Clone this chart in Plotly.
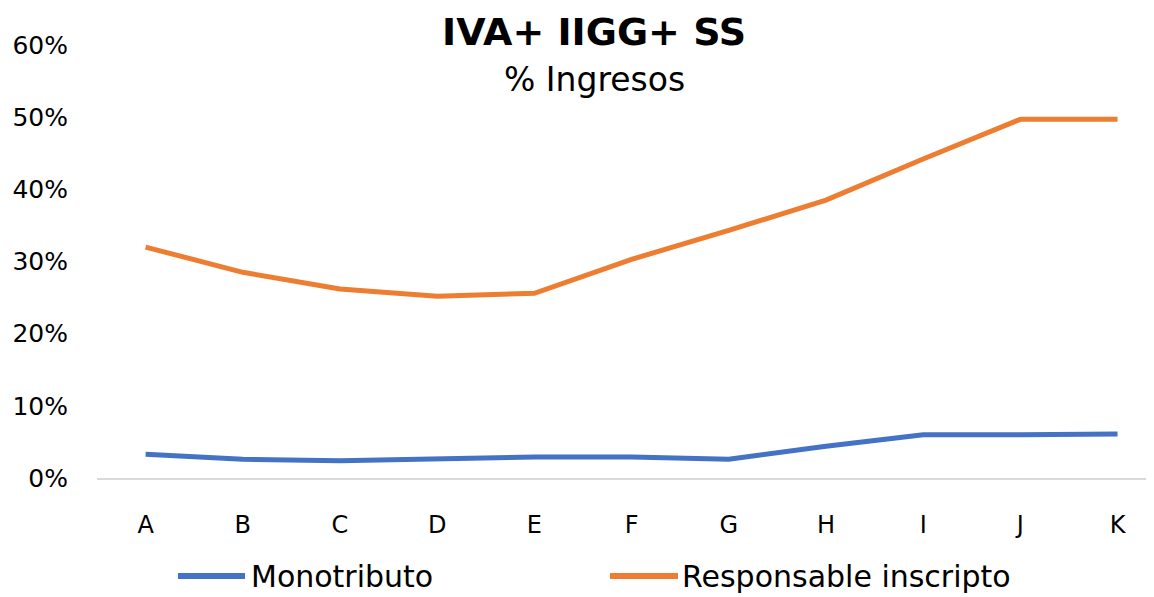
import plotly.graph_objects as go

categories = ["A", "B", "C", "D", "E", "F", "G", "H", "I", "J", "K"]
monotributo = [0.033, 0.026, 0.024, 0.026, 0.029, 0.029, 0.026, 0.044, 0.060, 0.060, 0.061]
responsable = [0.320, 0.285, 0.262, 0.252, 0.256, 0.303, 0.343, 0.385, 0.442, 0.497, 0.497]
y_ticks = [0, 0.1, 0.2, 0.3, 0.4, 0.5, 0.6]
y_tick_labels = ["0%", "10%", "20%", "30%", "40%", "50%", "60%"]

BLUE = "#4472C4"
ORANGE = "#ED7D31"
FONT = "DejaVu Sans"

# page has an 8px body margin; figure is sized to fit the window
OFF = 8
W, H = 1154 - OFF, 597 - OFF
PL, PR, PT, PB = 97, 1154, 45, 478  # plot area in window pixels

fig = go.Figure()
fig.add_trace(go.Scatter(x=list(range(len(categories))), y=monotributo, mode="lines",
                         name="Monotributo", line=dict(color=BLUE, width=5), showlegend=False))
fig.add_trace(go.Scatter(x=list(range(len(categories))), y=responsable, mode="lines",
                         name="Responsable inscripto", line=dict(color=ORANGE, width=5), showlegend=False))

fig.update_layout(
    width=W, height=H,
    margin=dict(l=PL - OFF, r=0, t=PT - OFF, b=H - (PB - OFF), pad=0),
    paper_bgcolor="white", plot_bgcolor="white",
    font=dict(family=FONT, color="#000000"),
    xaxis=dict(
        tickmode="array", tickvals=list(range(len(categories))), ticktext=categories,
        range=[-0.5, 10.375], showgrid=False, zeroline=False,
        showline=True, linecolor="#d9d9d9", linewidth=1.5,
        tickfont=dict(size=24), ticks="", ticklabelstandoff=24,
    ),
    yaxis=dict(
        range=[0, 0.6], tickmode="array", tickvals=y_ticks, ticktext=y_tick_labels,
        showgrid=False, zeroline=False, showline=False,
        tickfont=dict(size=25), ticks="", ticklabelstandoff=28,
    ),
)


def px_x(px):
    return (px - PL) / (PR - PL)


def px_y(px):
    return (PB - px) / (PB - PT)


fig.add_annotation(text="<b>IVA+ IIGG+ SS</b>", xref="paper", yref="paper",
                   x=px_x(594), y=px_y(32), showarrow=False, font=dict(size=38, family=FONT),
                   xanchor="center", yanchor="middle")
fig.add_annotation(text="% Ingresos", xref="paper", yref="paper",
                   x=px_x(594), y=px_y(79), showarrow=False, font=dict(size=33, family=FONT),
                   xanchor="center", yanchor="middle")

legend_items = [("Monotributo", BLUE, 178, 245, 249), ("Responsable inscripto", ORANGE, 610, 678, 680)]
for name, color, x0, x1, tx in legend_items:
    fig.add_shape(type="line", xref="paper", yref="paper",
                  x0=px_x(x0), x1=px_x(x1), y0=px_y(576), y1=px_y(576),
                  line=dict(color=color, width=6))
    fig.add_annotation(text=name, xref="paper", yref="paper", x=px_x(tx), y=px_y(576),
                       showarrow=False, xanchor="left", yanchor="middle",
                       font=dict(size=30, family=FONT))

fig.write_html("out.html")
